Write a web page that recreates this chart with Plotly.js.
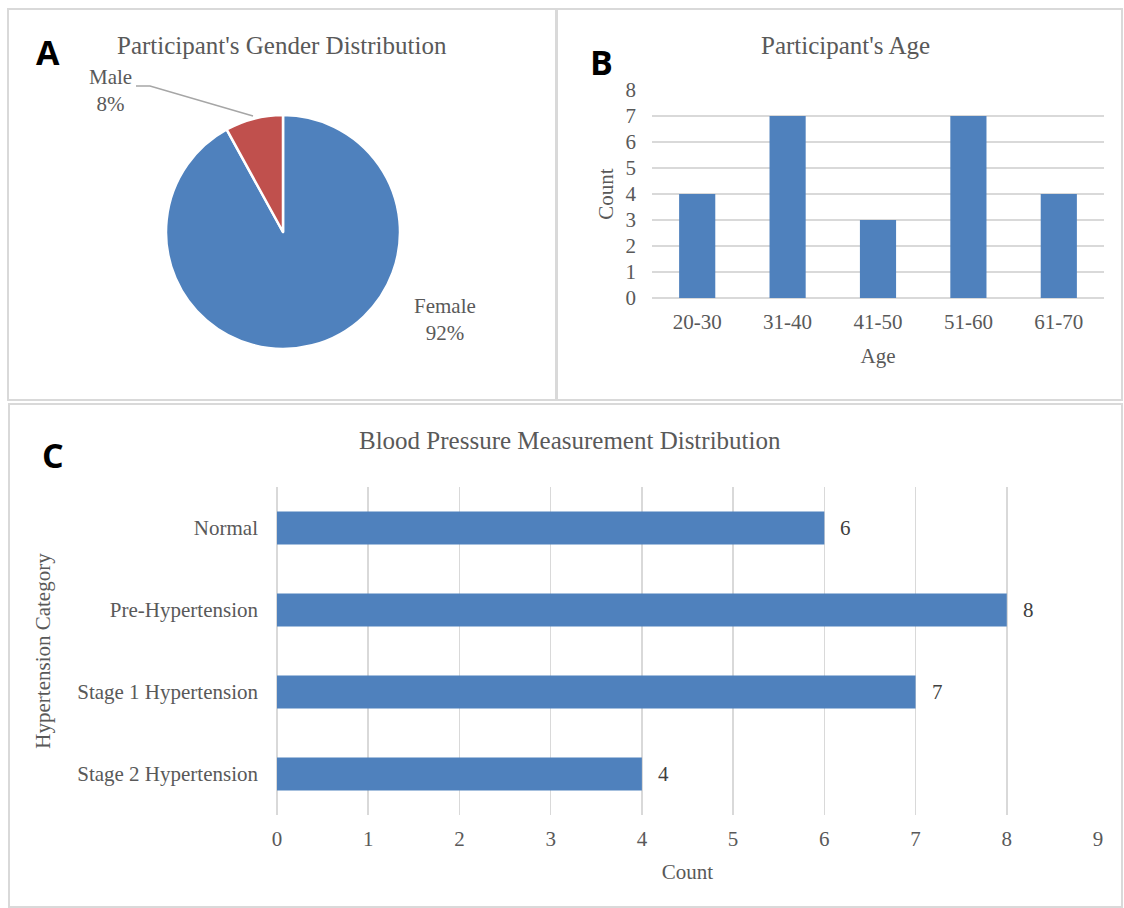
<!DOCTYPE html>
<html><head><meta charset="utf-8">
<script src="https://cdn.plot.ly/plotly-3.0.1.min.js"></script>
<style>html,body{margin:0;padding:0;background:#fff}#chart{width:1124px;height:908px}</style>
</head><body><div id="chart"></div>
<script>
// Panel A data
const genderLabels = ["Female", "Male"];
const genderValues = [92, 8];
const genderColors = ["#4F81BD", "#C0504D"];
// Panel B data
const ageGroups = ["20-30", "31-40", "41-50", "51-60", "61-70"];
const ageCounts = [4, 7, 3, 7, 4];
// Panel C data
const bpCategories = ["Normal", "Pre-Hypertension", "Stage 1 Hypertension", "Stage 2 Hypertension"];
const bpCounts = [6, 8, 7, 4];

const W = 1124, H = 908;
const px = x => x / W;
const py = y => 1 - y / H;
const SERIF = "Liberation Serif, Times New Roman, serif";
const SANS = "Open Sans, Liberation Sans, sans-serif";
const TXT = "#595959";
const GRID = "#d9d9d9";
const BLUE = "#4F81BD";
const TICK = 21, TITLE = 25, LETTER = 34;

const traces = [
  {
    type: "pie", labels: genderLabels, values: genderValues, sort: false,
    direction: "clockwise", rotation: 0,
    marker: {colors: genderColors, line: {color: "#ffffff", width: 2.5}},
    textinfo: "none", hoverinfo: "label+percent", showlegend: false,
    domain: {x: [px(166), px(400)], y: [py(349), py(115)]}
  },
  {
    type: "bar", x: ageGroups, y: ageCounts, xaxis: "x", yaxis: "y",
    marker: {color: BLUE}, showlegend: false
  },
  {
    type: "bar", orientation: "h", x: bpCounts, y: bpCategories, xaxis: "x2", yaxis: "y2",
    marker: {color: BLUE}, showlegend: false
  }
];

const total = genderValues.reduce((a, b) => a + b, 0);
const pct = v => Math.round(v / total * 100) + "%";

function paperText(text, x, y, font) {
  return {text: text, x: px(x), y: py(y), xref: "paper", yref: "paper", xanchor: "center", yanchor: "middle",
    showarrow: false, font: font};
}
const letterFont = {family: SANS, size: LETTER, color: "#000"};
const titleFont = {family: SERIF, size: TITLE, color: TXT};
const labelFont = {family: SERIF, size: TICK, color: TXT};

const annotations = [
  paperText("<b>A</b>", 48, 52, letterFont),
  paperText("<b>B</b>", 601, 62, letterFont),
  paperText("<b>C</b>", 53, 455, letterFont),
  paperText("Participant's Gender Distribution", 282, 45, titleFont),
  paperText("Participant's Age", 845, 45, titleFont),
  paperText("Blood Pressure Measurement Distribution", 570, 440, titleFont),
  paperText(genderLabels[1] + "<br>" + pct(genderValues[1]), 110, 90, labelFont),
  paperText(genderLabels[0] + "<br>" + pct(genderValues[0]), 445, 319, labelFont)
];
// value labels on bars of panel C
bpCategories.forEach((c, i) => {
  annotations.push({text: String(bpCounts[i]), x: bpCounts[i], y: c, xref: "x2", yref: "y2",
    xanchor: "left", yanchor: "middle", xshift: 14, showarrow: false, font: {family: SERIF, size: TICK, color: "#404040"}});
});

const border = {color: GRID, width: 2};
const shapes = [
  {type: "rect", xref: "paper", yref: "paper", x0: px(8), x1: px(556), y0: py(400), y1: py(9), line: border},
  {type: "rect", xref: "paper", yref: "paper", x0: px(557), x1: px(1122), y0: py(400), y1: py(9), line: border},
  {type: "rect", xref: "paper", yref: "paper", x0: px(9), x1: px(1122), y0: py(907), y1: py(404), line: border},
  {type: "path", xref: "paper", yref: "paper", path: `M ${px(136)} ${py(86)} L ${px(150)} ${py(86)} L ${px(253)} ${py(116)}`,
   line: {color: "#a6a6a6", width: 1.5}}
];

const tickFont = {family: SERIF, size: TICK, color: TXT};
const axTitleFont = {family: SERIF, size: TICK, color: TXT};
const layout = {
  width: W, height: H, margin: {l: 0, r: 0, t: 0, b: 0},
  paper_bgcolor: "#fff", plot_bgcolor: "rgba(0,0,0,0)",
  font: {family: SERIF, color: TXT},
  bargap: 0.6,
  showlegend: false,
  xaxis: {domain: [px(652), px(1104)], anchor: "y", type: "category", showgrid: false, zeroline: false,
    showline: false, ticks: "", tickfont: tickFont, ticklabelstandoff: 9,
    title: {text: "Age", font: axTitleFont, standoff: 15}},
  yaxis: {domain: [py(298), py(90)], anchor: "x", range: [0, 8], dtick: 1, showgrid: true, gridcolor: GRID, gridwidth: 1.5,
    zeroline: true, zerolinecolor: GRID, zerolinewidth: 1.5, showline: false, ticks: "", tickfont: tickFont, ticklabelstandoff: 15,
    title: {text: "Count", font: axTitleFont, standoff: 6}},
  xaxis2: {domain: [px(277), px(1098)], anchor: "y2", range: [0, 9], dtick: 1, showgrid: true, gridcolor: GRID, gridwidth: 1.5,
    zeroline: true, zerolinecolor: GRID, zerolinewidth: 1.5, showline: false, ticks: "", tickfont: tickFont, ticklabelstandoff: 9,
    title: {text: "Count", font: axTitleFont, standoff: 14}},
  yaxis2: {domain: [py(815), py(487)], anchor: "x2", type: "category", autorange: "reversed", showgrid: false, zeroline: false,
    showline: false, ticks: "", tickfont: tickFont, ticklabelstandoff: 18,
    title: {text: "Hypertension Category", font: axTitleFont, standoff: 20}},
  annotations: annotations,
  shapes: shapes
};

Plotly.newPlot("chart", traces, layout, {displayModeBar: false, staticPlot: true});
</script></body></html>
